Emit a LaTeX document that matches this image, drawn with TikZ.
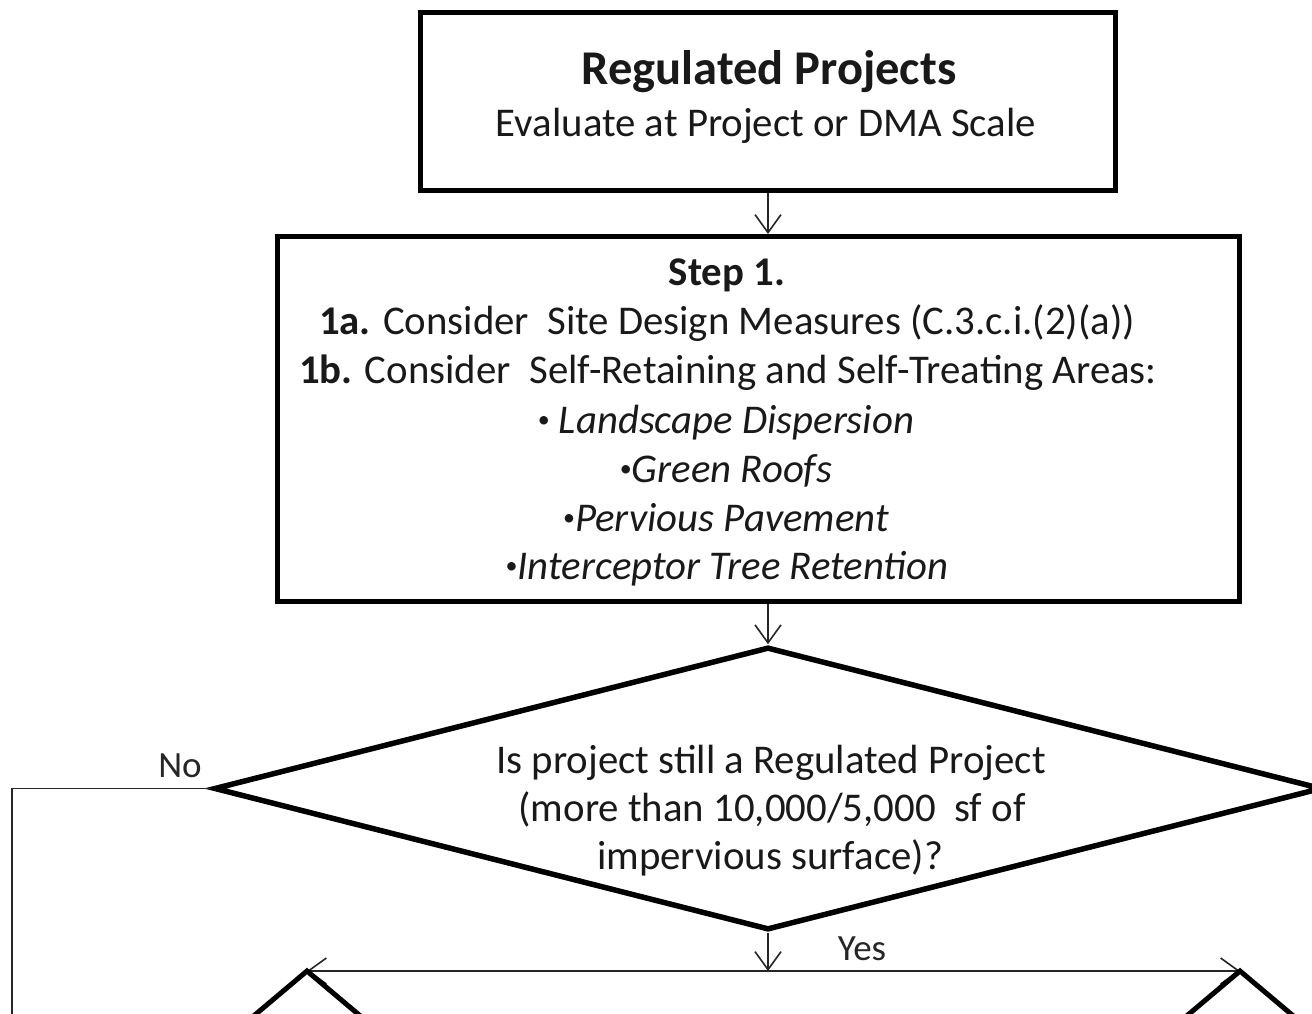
\documentclass[tikz,border=0pt]{standalone}
\usepackage{fontspec}
\setmainfont{Carlito}
\usetikzlibrary{shapes.geometric,arrows.meta,calc}
\newcommand{\smbul}{\raisebox{0.28ex}{\fontsize{24}{24}\selectfont\textbullet}}
\begin{document}
\begin{tikzpicture}[x=1pt,y=-1pt,
  thickbox/.style={draw=black, line width=5pt, rectangle, inner sep=0pt},
  decision/.style={draw=black, line width=5.5pt, diamond, inner sep=0pt, line join=miter},
  conn/.style={draw=black!85, line width=1.6pt},
  arr/.style={conn, -{Straight Barb[length=18pt,width=26pt,line width=1.6pt]}},
  txt/.style={anchor=base, inner sep=0pt, font=\fontsize{40.8}{48}\selectfont, text=black!90},
  ttl/.style={anchor=base, inner sep=0pt, font=\fontsize{48.5}{54}\selectfont\bfseries, text=black!90},
  lbl/.style={anchor=base, inner sep=0pt, font=\fontsize{37}{44}\selectfont, text=black!85},
  edge/.style={draw=black, line width=5pt, line join=miter}
]
\useasboundingbox (0,0) rectangle (1312,1014);
\clip (0,0) rectangle (1312,1014);
\fill[white] (0,0) rectangle (1312,1014);

% Box 1
\node[thickbox, minimum width=695pt, minimum height=178pt] (box1) at (768,101.5) {};
\node[ttl] (t1) at (769,85) {Regulated Projects};
\node[txt] (t2) at (766,137) {Evaluate at Project or DMA Scale};

% Box 2
\node[thickbox, minimum width=962pt, minimum height=365pt] (box2) at (758.5,419) {};
\node[txt] (s0) at (727,285) {\textbf{Step 1.}};
\node[txt] (s1) at (727,334) {\textbf{1a.} Consider\ \ Site Design Measures (C.3.c.i.(2)(a))};
\node[txt] (s2) at (728,383) {\textbf{1b.} Consider\ \ Self-Retaining and Self-Treating Areas:};
\node[txt] (s3) at (726,433) {\smbul\ \textit{Landscape Dispersion}};
\node[txt] (s4) at (726,482) {\smbul\textit{Green Roofs}};
\node[txt] (s5) at (726,531) {\smbul\textit{Pervious Pavement}};
\node[txt] (s6) at (727,579) {\smbul\textit{Interceptor Tree Retention}};

% Decision diamond
\node[decision, minimum width=1108pt, minimum height=283pt] (dia) at (768,788.5) {};
\node[txt] (d1) at (771,773) {Is project still a Regulated Project};
\node[txt] (d2) at (772,821) {(more than 10,000/5,000\ \ sf of};
\node[txt] (d3) at (770,869) {impervious surface)?};

% Labels
\node[lbl] (no) at (180,777) {No};
\node[lbl] (yes) at (862,960) {Yes};

% Coordinates
\coordinate (nocorner) at (12,787);
\coordinate (noend) at (12,1040);
\coordinate (split) at (768,971);
\coordinate (lapex) at (307,971);
\coordinate (rapex) at (1240,971);

% Connectors
\draw[arr] (box1.south) -- (box1.south |- box2.north);
\draw[arr] (dia.north |- box2.south) -- (dia.north);
\draw[conn] (dia.west) -- (dia.west -| nocorner) -- (noend);
\draw[arr] (dia.south) -- (split);
\draw[arr] (split) -- (lapex);
\draw[arr] (split) -- (rapex);

% Partially visible shapes below
\draw[edge] ($(lapex)+(-70,59)$) -- (lapex) -- ($(lapex)+(70,59)$);
\draw[edge] ($(rapex)+(-70,59)$) -- (rapex) -- ($(rapex)+(70,59)$);
\end{tikzpicture}
\end{document}
